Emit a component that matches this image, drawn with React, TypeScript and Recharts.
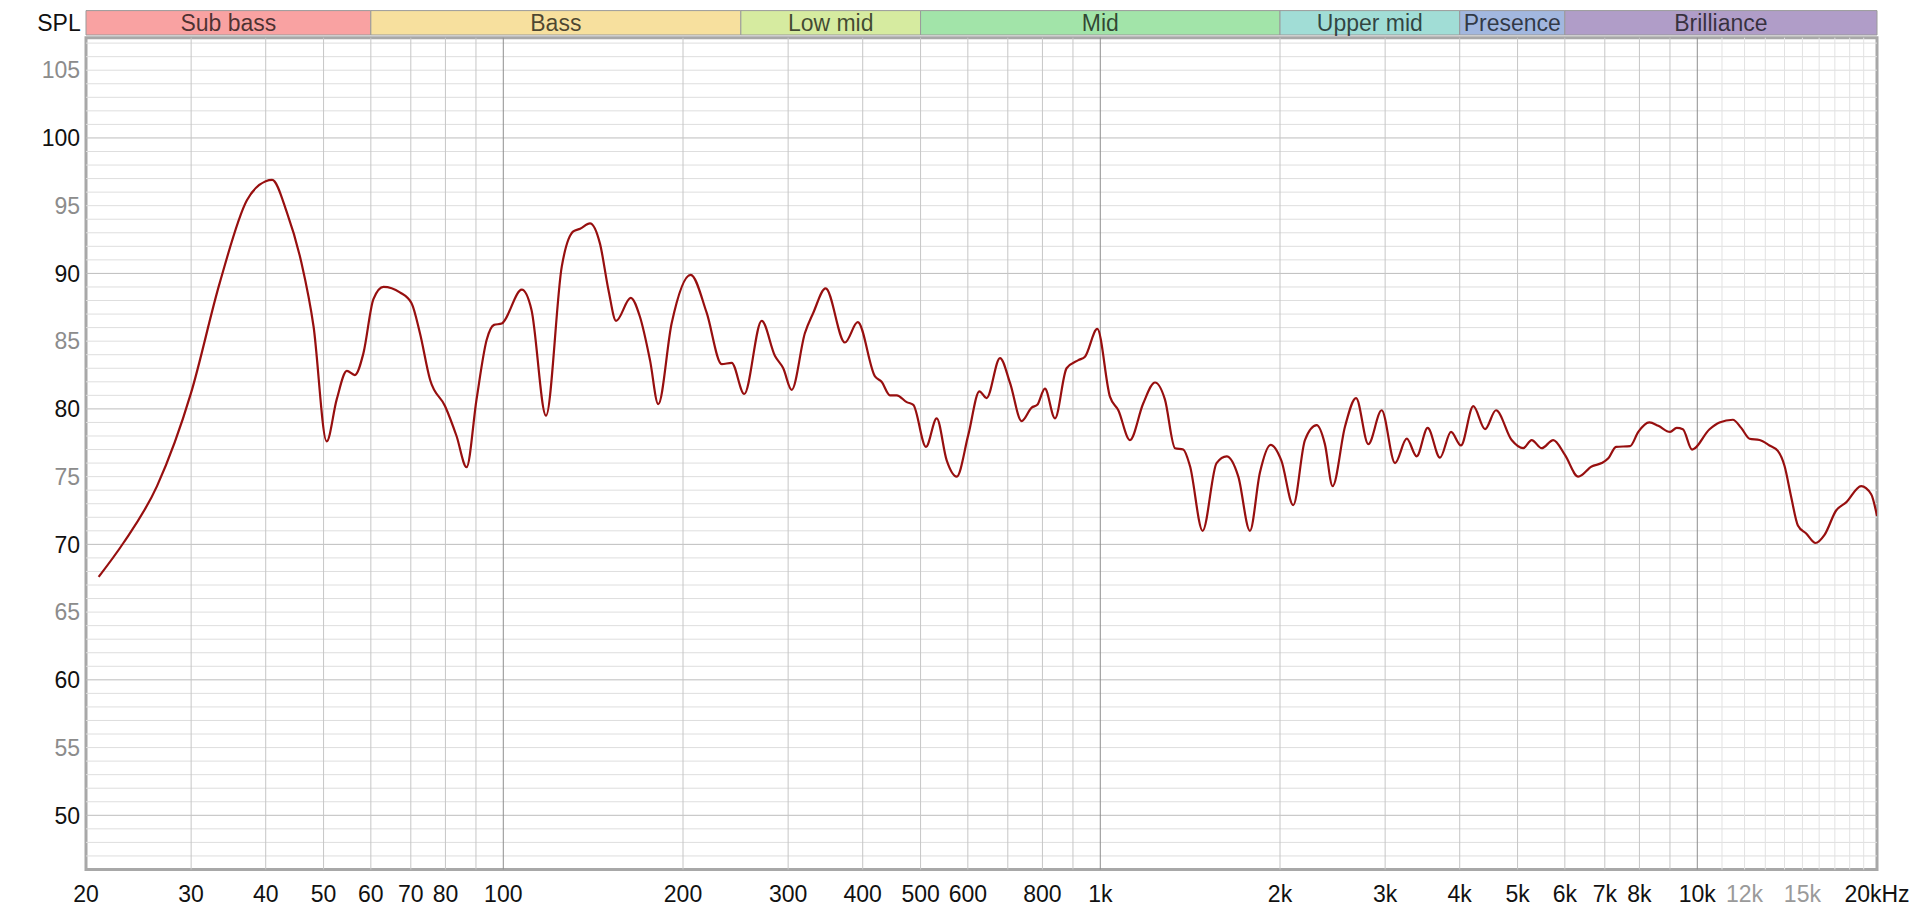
import React from 'react';
import { LineChart, Line, XAxis, YAxis, ReferenceLine, ReferenceArea } from 'recharts';

// measured frequency response (Hz / dB SPL)
const freqs = [
  21, 23.1, 26.3, 30, 33.5, 37.2, 40, 41, 43.4, 45.9, 48.1, 50.6, 52.6, 54.7, 56.4, 58.3,
  60.6, 63, 67.1, 70.2, 72.5, 75.4, 79.9, 83.5, 86.8, 90.2, 93.8, 96.5, 99.4, 107.4, 111.5,
  117.9, 125.3, 131, 134.5, 139.7, 145.2, 150, 154.5, 163.5, 169.4, 176.1, 181.8, 191.4,
  206, 219.1, 232.2, 241.3, 253.3, 270.9, 285.2, 294.4, 304.1, 320.1, 330.6, 346.7, 373.5,
  392.4, 419.4, 430.2, 444.3, 456, 474, 486.2, 510.6, 532.1, 553, 574.8, 601.2, 627.3,
  645.1, 679.2, 706.2, 738.4, 767.5, 784.3, 807.7, 839.6, 878.1, 918.9, 942.6, 988.6,
  1038, 1072, 1121, 1180, 1235, 1283, 1334, 1377, 1413, 1484, 1566, 1628, 1703, 1781, 1851,
  1929, 2010, 2105, 2202, 2304, 2378, 2450, 2570, 2682, 2812, 2960, 3117, 3261, 3388, 3535,
  3707, 3868, 4019, 4215, 4410, 4600, 4887, 5110, 5279, 5487, 5739, 6002, 6319, 6653, 6916,
  7096, 7310, 7716, 7965, 8311, 8606, 9003, 9238, 9459, 9800, 10484, 10895, 11468, 11845,
  12232, 12715, 13212, 13643, 13998, 14364, 14740, 15222, 15777, 16335, 17084, 17757,
  18814, 19555, 20000,
];
const spl = [
  67.6, 70.1, 74.3, 81.2, 89.3, 95.4, 96.8, 96.9, 94.5, 90.8, 86.1, 77.6, 80.7, 82.8, 82.5, 84.1,
  88.1, 89.0, 88.6, 87.8, 85.6, 82.15, 80.2, 78.0, 75.7, 80.7, 85.1, 86.2, 86.3, 88.8, 87.3,
  79.5, 90.5, 93.1, 93.3, 93.7, 92.2, 88.8, 86.5, 88.2, 86.8, 83.6, 80.35, 86.3,
  89.9, 87.1, 83.3, 83.4, 81.1, 86.5, 83.9, 83.0, 81.4, 85.6, 87.1, 88.9, 84.9,
  86.4, 82.4, 82.0, 81.0, 81.0, 80.5, 80.3, 77.2, 79.3, 76.2, 75.0, 78.1, 81.3,
  80.8, 83.75, 81.9, 79.1, 80.1, 80.3, 81.5, 79.3, 83.0, 83.6, 83.85, 85.9,
  80.9, 79.9, 77.7, 80.4, 81.95, 80.7, 77.1, 77.0, 75.8, 71.0, 76.0, 76.5, 75.0, 71.0, 75.3,
  77.35, 76.2, 72.9, 77.7, 78.8, 77.4, 74.3, 78.7, 80.8, 77.4, 79.9, 76.0, 77.8, 76.5, 78.6,
  76.4, 78.3, 77.3, 80.2, 78.5, 79.9, 77.7, 77.1, 77.7, 77.1, 77.7, 76.6, 75.0, 75.75, 76.0,
  76.35, 77.2, 77.25, 78.3, 79.0, 78.75, 78.3, 78.6, 78.5, 77.0, 78.5, 79.0, 79.2, 78.6,
  77.8, 77.7, 77.3, 76.9, 75.8, 73.5, 71.4, 70.8, 70.1, 70.7, 72.5, 73.1,
  74.3, 73.7, 72.1,
];

// frequency bands shown in the header strip
const bandNames = ['Sub bass', 'Bass', 'Low mid', 'Mid', 'Upper mid', 'Presence', 'Brilliance'];
const bandStarts = [20, 60, 250, 500, 2000, 4000, 6000];
const bandEnds = [60, 250, 500, 2000, 4000, 6000, 20000];
const bandColors = ['#f9a2a2', '#f7e09e', '#d6eba0', '#a2e4a9', '#a1ddd6', '#a2b7df', '#b09dc8'];

const xTicks = [20, 30, 40, 50, 60, 70, 80, 100, 200, 300, 400, 500, 600, 800, 1000, 2000, 3000, 4000, 5000, 6000, 7000, 8000, 10000, 12000, 15000, 20000];
const xTickLabels = ['20', '30', '40', '50', '60', '70', '80', '100', '200', '300', '400', '500', '600', '800', '1k', '2k', '3k', '4k', '5k', '6k', '7k', '8k', '10k', '12k', '15k', '20kHz'];
const xTickGray = ['12k', '15k'];

const yTicks = [50, 55, 60, 65, 70, 75, 80, 85, 90, 95, 100, 105];

const gridFreqs = [30, 40, 50, 60, 70, 80, 90, 200, 300, 400, 500, 600, 700, 800, 900, 2000, 3000, 4000, 5000, 6000, 7000, 8000, 9000];
const gridFreqsFine = [11000, 12000, 13000, 14000, 15000, 16000, 17000, 18000, 19000];
const gridFreqsMajor = [100, 1000, 10000];
const gridDb = [47, 48, 49, 51, 52, 53, 54, 55, 56, 57, 58, 59, 61, 62, 63, 64, 65, 66, 67, 68, 69, 71, 72, 73, 74, 75, 76, 77, 78, 79, 81, 82, 83, 84, 85, 86, 87, 88, 89, 91, 92, 93, 94, 95, 96, 97, 98, 99, 101, 102, 103, 104, 105, 106, 107];
const gridDbMajor = [50, 60, 70, 80, 90, 100];

const FONT = '"Liberation Sans", Arial, sans-serif';
const FS = 23;
const Y_MIN = 46;
const Y_MAX = 107.4;

const data = freqs.map((f, i) => ({ f, spl: spl[i] }));

const XTick = (props: any) => {
  const { x, y, payload } = props;
  const label = xTickLabels[xTicks.indexOf(payload.value)];
  return (
    <text x={x} y={y} dy="0.71em" textAnchor="middle" fontFamily={FONT} fontSize={FS}
      fill={xTickGray.includes(label) ? '#9a9a9a' : '#111'}>
      {label}
    </text>
  );
};

const YTick = (props: any) => {
  const { x, y, payload } = props;
  return (
    <text x={x} y={y} dy="0.36em" textAnchor="end" fontFamily={FONT} fontSize={FS}
      fill={payload.value % 10 === 0 ? '#111' : '#8c8c8c'}>
      {payload.value}
    </text>
  );
};

export default function App() {
  return (
    <div style={{ position: 'absolute', left: 0, top: 0, width: 1920, height: 915, background: '#fff' }}>
      <LineChart width={1920} height={915} data={data}
        margin={{ top: 37.7, right: 43, bottom: 5.5, left: 32 }}>
        <XAxis dataKey="f" type="number" scale="log" domain={[20, 20000]} ticks={xTicks}
          allowDataOverflow axisLine={false} tickLine={false} tickSize={0} tickMargin={16}
          height={40} interval={0} tick={<XTick />} />
        <YAxis type="number" domain={[Y_MIN, Y_MAX]} ticks={yTicks} allowDataOverflow
          axisLine={false} tickLine={false} tickSize={0} tickMargin={6} width={54} interval={0}
          tick={<YTick />}
          label={{ value: 'SPL', position: 'top', offset: 7, fontFamily: FONT, fontSize: FS, fill: '#111' }} />

        {gridDb.map((v) => (
          <ReferenceLine key={'h' + v} y={v} stroke="#dedede" strokeWidth={1} />
        ))}
        {gridDbMajor.map((v) => (
          <ReferenceLine key={'hm' + v} y={v} stroke="#bdbdbd" strokeWidth={1} />
        ))}
        {gridFreqsFine.map((v) => (
          <ReferenceLine key={'vf' + v} x={v} stroke="#e2e2e2" strokeWidth={1} />
        ))}
        {gridFreqs.map((v) => (
          <ReferenceLine key={'v' + v} x={v} stroke="#c6c6c6" strokeWidth={1} />
        ))}
        {gridFreqsMajor.map((v) => (
          <ReferenceLine key={'vm' + v} x={v} stroke="#8e8e8e" strokeWidth={1} />
        ))}

        <ReferenceArea x1={20} x2={20000} y1={Y_MIN} y2={Y_MAX} fill="none"
          stroke="#a8a8a8" strokeWidth={3} ifOverflow="visible" />

        {bandNames.map((name, i) => (
          <ReferenceArea key={name} x1={bandStarts[i]} x2={bandEnds[i]} y1={107.6} y2={109.4}
            ifOverflow="visible" fill={bandColors[i]} fillOpacity={1} stroke="#9a9a9a" strokeWidth={1}
            label={{ value: name, position: 'center', fontFamily: FONT, fontSize: FS, fill: 'rgba(0,0,0,0.7)' }} />
        ))}

        <Line dataKey="spl" type="monotone" stroke="#970f0f" strokeWidth={2.2} dot={false}
          activeDot={false} isAnimationActive={false} />
      </LineChart>
    </div>
  );
}
